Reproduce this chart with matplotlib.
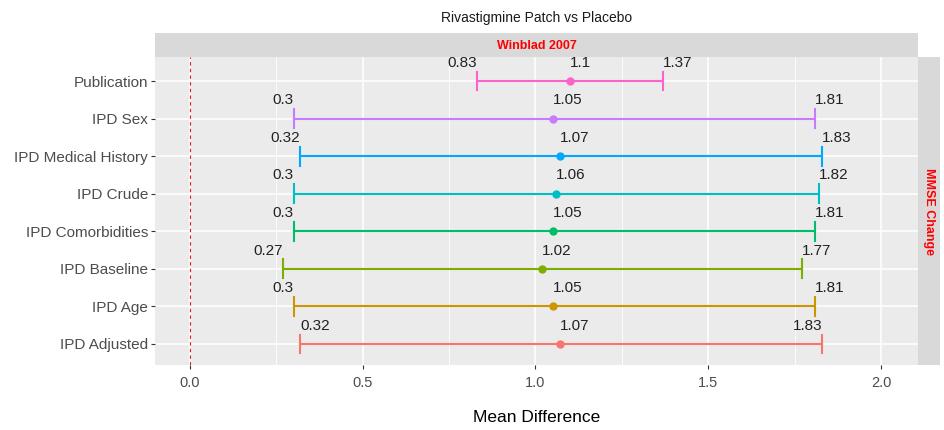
import matplotlib
matplotlib.use('Agg')
from matplotlib import pyplot as plt

plt.rcParams['font.family'] = ['Liberation Sans', 'DejaVu Sans']

# data (bottom to top)
analyses = ['IPD Adjusted', 'IPD Age', 'IPD Baseline', 'IPD Comorbidities',
            'IPD Crude', 'IPD Medical History', 'IPD Sex', 'Publication']
md = [1.07, 1.05, 1.02, 1.05, 1.06, 1.07, 1.05, 1.1]
lower = [0.32, 0.3, 0.27, 0.3, 0.3, 0.32, 0.3, 0.83]
upper = [1.83, 1.81, 1.77, 1.81, 1.82, 1.83, 1.81, 1.37]
colors = ['#F8766D', '#CD9600', '#7CAE00', '#00BE67',
          '#00BFC4', '#00A9FF', '#C77CFF', '#FF61CC']
xticks = [0.0, 0.5, 1.0, 1.5, 2.0]

W, H = 944, 430
fig = plt.figure(figsize=(W / 100, H / 100), dpi=100)

pl, pr, pt, pb = 155, 918, 57, 365
ax = fig.add_axes([pl / W, 1 - pb / H, (pr - pl) / W, (pb - pt) / H])
ax.set_facecolor('#EBEBEB')
for s in ax.spines.values():
    s.set_visible(False)

ax.set_xlim(-0.101, 2.107)
ax.set_ylim(0.44, 8.64)
ax.set_xticks(xticks)
ax.set_xticks([0.25, 0.75, 1.25, 1.75], minor=True)
ax.set_yticks(range(1, len(analyses) + 1))
ax.set_yticklabels(analyses)
ax.grid(True, which='major', color='white', linewidth=1.1, zorder=0)
ax.grid(True, which='minor', axis='x', color='white', linewidth=0.6, zorder=0)
ax.set_axisbelow(True)
ax.tick_params(axis='both', which='major', labelsize=11, labelcolor='#4D4D4D',
               color='#333333', length=3, width=0.8, pad=2)
ax.tick_params(axis='x', which='minor', length=0)
ax.tick_params(axis='x', labelsize=10.5, pad=5)

ax.axvline(0, color='#E41A1C', linestyle=(0, (3, 3)), linewidth=0.8, zorder=1)

for i, name in enumerate(analyses):
    y = i + 1
    c = colors[i]
    ax.plot([lower[i], upper[i]], [y, y], color=c, linewidth=1.5, zorder=3)
    for xv in (lower[i], upper[i]):
        ax.plot([xv, xv], [y - 0.25, y + 0.25], color=c, linewidth=1.5, zorder=3)
    ax.plot(md[i], y, 'o', color=c, markersize=5, zorder=4)
    if name == 'IPD Adjusted':
        ha_lo, ha_hi = 'left', 'right'
    else:
        ha_lo, ha_hi = 'right', 'left'
    ty = y + 0.3
    ax.text(lower[i], ty, f'{lower[i]:g}', ha=ha_lo, va='bottom', fontsize=11, color='#222222')
    ax.text(upper[i], ty, f'{upper[i]:g}', ha=ha_hi, va='bottom', fontsize=11, color='#222222')
    ax.text(md[i], ty, f'{md[i]:g}', ha='left', va='bottom', fontsize=11, color='#222222')

ax.set_xlabel('Mean Difference', fontsize=12.5, color='black', labelpad=14)

# facet strips
top = fig.add_axes([pl / W, 1 - pt / H, (pr - pl) / W, 24 / H])
top.set_facecolor('#D9D9D9')
top.set_xticks([]); top.set_yticks([])
for s in top.spines.values():
    s.set_visible(False)
top.text(0.5, 0.45, 'Winblad 2007', ha='center', va='center', color='red',
         fontsize=9, fontweight='bold', transform=top.transAxes)

right = fig.add_axes([pr / W, 1 - pb / H, 22 / W, (pb - pt) / H])
right.set_facecolor('#D9D9D9')
right.set_xticks([]); right.set_yticks([])
for s in right.spines.values():
    s.set_visible(False)
right.text(0.5, 0.5, 'MMSE Change', ha='center', va='center', color='red',
           fontsize=9, fontweight='bold', rotation=-90, transform=right.transAxes)

fig.text((pl + pr) / 2 / W, 1 - 18 / H, 'Rivastigmine Patch vs Placebo',
         ha='center', va='center', fontsize=10, color='#1A1A1A')

fig.savefig('out.png', dpi=100)
